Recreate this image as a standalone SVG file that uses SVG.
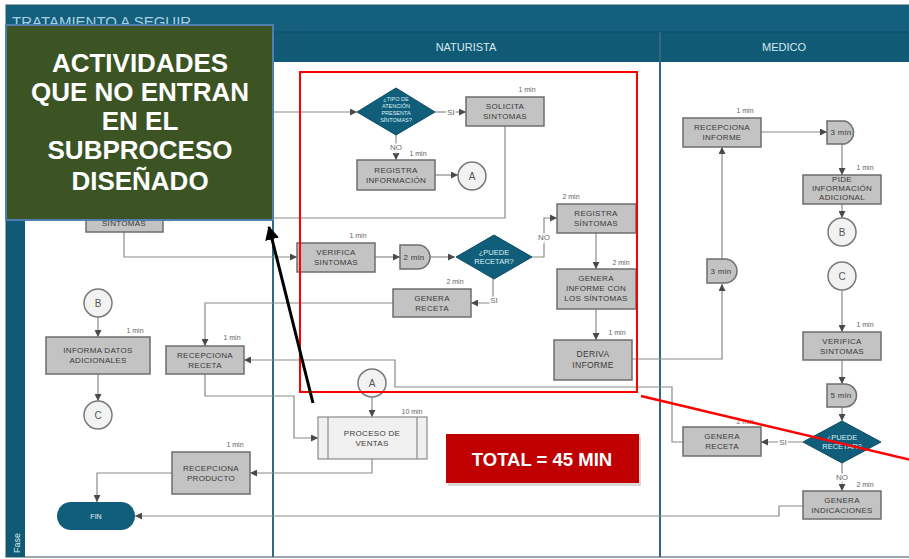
<svg xmlns="http://www.w3.org/2000/svg" width="909" height="559" viewBox="0 0 909 559">
<defs>
<marker id="ar" viewBox="0 0 10 10" refX="10" refY="5" markerWidth="7" markerHeight="7" markerUnits="userSpaceOnUse" orient="auto">
<path d="M0,0 L10,5 L0,10 z" fill="#4a4a4a"/>
</marker>
<marker id="bk" viewBox="0 0 10 10" refX="9" refY="5" markerWidth="14" markerHeight="14" markerUnits="userSpaceOnUse" orient="auto">
<path d="M0,0 L10,5 L0,10 z" fill="#000"/>
</marker>
<style>
.box{fill:#c3c3c3;stroke:#6e6e6e;stroke-width:1.5}
.t{font-family:"Liberation Sans",Arial,sans-serif;font-size:8px;fill:#3a3a3a;text-anchor:middle;letter-spacing:0.3px}
.m{font-family:"Liberation Sans",Arial,sans-serif;font-size:7px;fill:#5f5f5f;text-anchor:middle}
.lbl{font-family:"Liberation Sans",Arial,sans-serif;font-size:8px;fill:#6a6a6a;text-anchor:middle;stroke:#fff;stroke-width:3px;paint-order:stroke}
.dia{fill:#115e7a;stroke:#0d4d65;stroke-width:1}
.dt{font-family:"Liberation Sans",Arial,sans-serif;font-size:5.5px;fill:#dbeef5;text-anchor:middle}
.cir{fill:#f2f2f2;stroke:#7a7a7a;stroke-width:1.5}
.ct{font-family:"Liberation Sans",Arial,sans-serif;font-size:10px;fill:#555;text-anchor:middle}
.c{fill:none;stroke:#8a8a8a;stroke-width:1.2;marker-end:url(#ar)}
.hd{font-family:"Liberation Sans",Arial,sans-serif;font-size:11px;fill:#d6e8f0;text-anchor:middle}
</style>
</defs>
<rect width="909" height="559" fill="#fff"/>
<!-- frame -->
<g id="frame">
<rect x="6" y="5" width="910" height="552" fill="#fff" stroke="#7a8a92" stroke-width="1.5"/>
<rect x="6" y="5" width="910" height="27" fill="#135f7c"/>
<rect x="6" y="32" width="910" height="30" fill="#115a76"/>
<line x1="6" y1="32" x2="909" y2="32" stroke="#0e4f68" stroke-width="1"/>
<rect x="6" y="32" width="19" height="525" fill="#115a76"/>
<text x="12" y="27" font-family="Liberation Sans,Arial,sans-serif" font-size="15" fill="#a9cfe0">TRATAMIENTO A SEGUIR</text>
<text transform="translate(20,553) rotate(-90)" font-family="Liberation Sans,Arial,sans-serif" font-size="9" fill="#d6e8f0">Fase</text>
<line x1="273" y1="32" x2="273" y2="557" stroke="#2f6a82" stroke-width="2"/>
<line x1="660" y1="32" x2="660" y2="557" stroke="#2f6a82" stroke-width="2"/>
<text class="hd" x="466" y="51">NATURISTA</text>
<text class="hd" x="784" y="51">MEDICO</text>
</g>
<!-- connectors -->
<g id="connectors">
<path class="c" d="M200,112 H357"/>
<path class="c" d="M435,112 H466"/>
<path class="c" d="M396,134 V160"/>
<path class="c" d="M435,175 H458"/>
<path class="c" d="M505,126 V218 H163"/>
<path class="c" d="M124,232 V257 H297"/>
<path class="c" d="M375,257 H400"/>
<path class="c" d="M430,257 H455"/>
<path class="c" d="M532,257 H544 V218 H557"/>
<path class="c" d="M596,233 V269"/>
<path class="c" d="M596,309 V340"/>
<path class="c" d="M632,359 H722 V284"/>
<path class="c" d="M722,259 V147"/>
<path class="c" d="M761,132 H827"/>
<path class="c" d="M842,144 V175"/>
<path class="c" d="M842,204 V218"/>
<path class="c" d="M842,290 V332"/>
<path class="c" d="M842,360 V384"/>
<path class="c" d="M842,407 V421"/>
<path class="c" d="M803,442 H761"/>
<path class="c" d="M842,463 V491"/>
<path class="c" d="M803,506 H779 V516 H135"/>
<path class="c" d="M683,442 H672 V387 H395 V360 H244"/>
<path class="c" d="M493,278 V303 H471"/>
<path class="c" d="M393,303 H205 V346"/>
<path class="c" d="M205,374 V396 H294 V438 H318"/>
<path class="c" d="M372,397 V417"/>
<path class="c" d="M372,459 V473 H250"/>
<path class="c" d="M172,473 H97 V502"/>
<path class="c" d="M98,317 V337"/>
<path class="c" d="M98,374 V401"/>
<text class="lbl" x="451" y="115">SI</text>
<text class="lbl" x="396" y="150">NO</text>
<text class="lbl" x="544" y="240">NO</text>
<text class="lbl" x="494" y="303">SI</text>
<text class="lbl" x="783" y="445">SI</text>
<text class="lbl" x="842" y="480">NO</text>
</g>
<!-- left column -->
<g id="n-sintomas"><rect class="box" x="86" y="196" width="77" height="36"/><text class="t" x="124" y="226">SINTOMAS</text></g>
<g id="n-b1"><circle class="cir" cx="98" cy="303" r="14"/><text class="ct" x="98" y="307">B</text></g>
<g id="n-informa"><rect class="box" x="46" y="337" width="104" height="37"/><text class="m" x="135" y="333">1 min</text><text class="t" x="98" y="353">INFORMA DATOS</text><text class="t" x="98" y="363">ADICIONALES</text></g>
<g id="n-c1"><circle class="cir" cx="98" cy="415" r="14"/><text class="ct" x="98" y="419">C</text></g>
<g id="n-recreceta"><rect class="box" x="166" y="346" width="78" height="28"/><text class="m" x="232" y="340">1 min</text><text class="t" x="205" y="358">RECEPCIONA</text><text class="t" x="205" y="368">RECETA</text></g>
<g id="n-recprod"><rect class="box" x="172" y="452" width="78" height="42"/><text class="m" x="235" y="447">1 min</text><text class="t" x="211" y="471">RECEPCIONA</text><text class="t" x="211" y="481">PRODUCTO</text></g>
<g id="n-fin"><rect x="57" y="502" width="78" height="28" rx="14" fill="#115e7a"/><text x="96" y="519" font-family="Liberation Sans,Arial,sans-serif" font-size="7" fill="#e6f2f7" text-anchor="middle">FIN</text></g>
<!-- naturista -->
<g id="n-tipo"><polygon class="dia" points="396,88 435,112 396,135 357,112"/><text class="dt" x="396" y="101">¿TIPO DE</text><text class="dt" x="396" y="108">ATENCIÓN</text><text class="dt" x="396" y="115">PRESENTA</text><text class="dt" x="396" y="122">SÍNTOMAS?</text></g>
<g id="n-solicita"><rect class="box" x="466" y="97" width="78" height="29"/><text class="m" x="527" y="92">1 min</text><text class="t" x="505" y="109">SOLICITA</text><text class="t" x="505" y="119">SINTOMAS</text></g>
<g id="n-reginfo"><rect class="box" x="357" y="160" width="78" height="30"/><text class="m" x="418" y="156">1 min</text><text class="t" x="396" y="173">REGISTRA</text><text class="t" x="396" y="183">INFORMACIÓN</text></g>
<g id="n-a1"><circle class="cir" cx="472" cy="176" r="14"/><text class="ct" x="472" y="180">A</text></g>
<g id="n-verifica1"><rect class="box" x="297" y="243" width="78" height="29"/><text class="m" x="358" y="238">1 min</text><text class="t" x="336" y="255">VERIFICA</text><text class="t" x="336" y="265">SINTOMAS</text></g>
<g id="n-d2"><path class="box" d="M400,245 H418 A12,12 0 0 1 418,269 H400 Z"/><text class="t" x="414" y="260">2 min</text></g>
<g id="n-puede1"><polygon class="dia" points="494,235 532,257 494,279 456,257"/><text class="dt" x="494" y="255" style="font-size:7.5px">¿PUEDE</text><text class="dt" x="494" y="264" style="font-size:7.5px">RECETAR?</text></g>
<g id="n-regsint"><rect class="box" x="557" y="204" width="79" height="29"/><text class="m" x="571" y="199">2 min</text><text class="t" x="596" y="216">REGISTRA</text><text class="t" x="596" y="226">SÍNTOMAS</text></g>
<g id="n-genera-inf"><rect class="box" x="557" y="269" width="79" height="40"/><text class="m" x="621" y="265">2 min</text><text class="t" x="596" y="281">GENERA</text><text class="t" x="596" y="291">INFORME CON</text><text class="t" x="596" y="301">LOS SÍNTOMAS</text></g>
<g id="n-deriva"><rect class="box" x="554" y="340" width="78" height="40"/><text class="m" x="617" y="335">1 min</text><text class="t" x="593" y="357" style="font-size:8.5px">DERIVA</text><text class="t" x="593" y="368" style="font-size:8.5px">INFORME</text></g>
<g id="n-genreceta1"><rect class="box" x="393" y="289" width="78" height="28"/><text class="m" x="455" y="284">2 min</text><text class="t" x="432" y="301">GENERA</text><text class="t" x="432" y="311">RECETA</text></g>
<g id="n-a2"><circle class="cir" cx="372" cy="383" r="14"/><text class="ct" x="372" y="387">A</text></g>
<g id="n-proceso"><rect x="318" y="417" width="109" height="42" fill="#f0f0f0" stroke="#8a8a8a" stroke-width="1.2"/><line x1="328" y1="417" x2="328" y2="459" stroke="#8a8a8a" stroke-width="1.2"/><line x1="417" y1="417" x2="417" y2="459" stroke="#8a8a8a" stroke-width="1.2"/><text class="m" x="412" y="414">10 min</text><text class="t" x="372" y="436">PROCESO DE</text><text class="t" x="372" y="446">VENTAS</text></g>
<!-- medico -->
<g id="n-recinf"><rect class="box" x="683" y="118" width="78" height="29"/><text class="m" x="745" y="113">1 min</text><text class="t" x="722" y="130">RECEPCIONA</text><text class="t" x="722" y="140">INFORME</text></g>
<g id="n-d3a"><path class="box" d="M827,121 H845 A12,12 0 0 1 845,144 H827 Z"/><text class="t" x="841" y="135">3 min</text></g>
<g id="n-pide"><rect class="box" x="803" y="175" width="78" height="29"/><text class="m" x="865" y="170">1 min</text><text class="t" x="842" y="182">PIDE</text><text class="t" x="842" y="191">INFORMACIÓN</text><text class="t" x="842" y="200">ADICIONAL</text></g>
<g id="n-b2"><circle class="cir" cx="842" cy="232" r="14"/><text class="ct" x="842" y="236">B</text></g>
<g id="n-d3b"><path class="box" d="M707,259 H725 A12,12 0 0 1 725,283 H707 Z"/><text class="t" x="721" y="274">3 min</text></g>
<g id="n-c2"><circle class="cir" cx="842" cy="276" r="14"/><text class="ct" x="842" y="280">C</text></g>
<g id="n-verifica2"><rect class="box" x="803" y="332" width="78" height="28"/><text class="m" x="865" y="327">1 min</text><text class="t" x="842" y="344">VERIFICA</text><text class="t" x="842" y="354">SINTOMAS</text></g>
<g id="n-d5"><path class="box" d="M827,384 H845 A11.5,11.5 0 0 1 845,407 H827 Z"/><text class="t" x="841" y="398">5 min</text></g>
<g id="n-puede2"><polygon class="dia" points="842,421 881,442 842,463 803,442"/><text class="dt" x="842" y="440" style="font-size:7.5px">¿PUEDE</text><text class="dt" x="842" y="449" style="font-size:7.5px">RECETAR?</text></g>
<g id="n-genreceta2"><rect class="box" x="683" y="427" width="78" height="29"/><text class="m" x="745" y="424">2 min</text><text class="t" x="722" y="439">GENERA</text><text class="t" x="722" y="449">RECETA</text></g>
<g id="n-genind"><rect class="box" x="803" y="491" width="78" height="28"/><text class="m" x="865" y="487">2 min</text><text class="t" x="842" y="503">GENERA</text><text class="t" x="842" y="513">INDICACIONES</text></g>
<!-- total -->
<g id="n-total"><rect x="448" y="437" width="193" height="49" fill="#000" opacity="0.15"/><rect x="446" y="434" width="193" height="49" fill="#c00000"/><text x="542" y="466" font-family="Liberation Sans,Arial,sans-serif" font-size="18.5" font-weight="bold" fill="#fff" text-anchor="middle">TOTAL = 45 MIN</text></g>
<!-- overlays -->
<g id="overlay">
<rect x="300" y="72" width="337" height="320" fill="none" stroke="#ff0000" stroke-width="2"/>
<line x1="641" y1="396" x2="915" y2="461" stroke="#ff0000" stroke-width="2.5"/>
<line x1="313" y1="403" x2="269" y2="227" stroke="#000" stroke-width="3" marker-end="url(#bk)"/>
</g>
<g id="n-note">
<rect x="6" y="25" width="267" height="195" fill="#3c5424" stroke="#4f7fb0" stroke-width="2"/>
<g font-family="Liberation Sans,Arial,sans-serif" font-size="26" font-weight="bold" fill="#fff" text-anchor="middle">
<text x="140" y="72">ACTIVIDADES</text>
<text x="140" y="101">QUE NO ENTRAN</text>
<text x="140" y="130">EN EL</text>
<text x="140" y="159">SUBPROCESO</text>
<text x="140" y="190">DISEÑADO</text>
</g>
</g>
</svg>
